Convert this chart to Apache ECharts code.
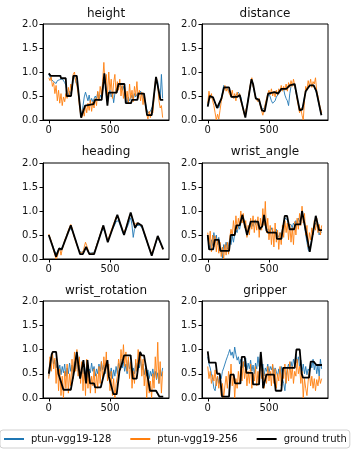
<!DOCTYPE html>
<html><head><meta charset="utf-8">
<script src="https://cdn.jsdelivr.net/npm/echarts@6/dist/echarts.min.js"></script>
<style>html,body{margin:0;padding:0;background:#fff}#c{width:352px;height:451px}</style>
</head><body><div id="c"></div>
<script>
// ---- data (x step between prediction samples) ----
const STEP = 10;
const seriesNames = ['ptun-vgg19-128', 'ptun-vgg19-256', 'ground truth'];
const panelTitles = ['height', 'distance', 'heading', 'wrist_angle', 'wrist_rotation', 'gripper'];
const xTickValues = [0, 500];
const yTickValues = [0, 0.5, 1.0, 1.5, 2.0];

const heightBlue = [.95,.92,.85,.88,.80,.84,.76,.82,.78,.84,
 .80,.86,.82,.78,.72,.58,.52,.60,.55,.66,
 .85,.90,.82,.86,.64,.40,.20,.12,.30,.48,
 .58,.62,.40,.52,.36,.45,.38,.42,.50,.44,
 .58,.40,.52,.46,.62,.80,.85,.62,.45,.55,
 .62,.48,.58,.36,.55,.64,.60,.70,.66,.72,
 .62,.70,.58,.42,.36,.48,.40,.45,.52,.42,
 .55,.48,.50,.58,.52,.60,.55,.50,.48,.35,
 .22,.15,.12,.18,.14,.30,.52,.72,.85,.80,
 .58,.45,.95,.45];
const heightOrange = [.88,.82,.90,.70,.78,.55,.72,.40,.62,.35,
 .55,.30,.48,.38,.55,.45,.68,.50,.75,.62,
 .95,1.0,.80,.72,.55,.30,.12,.05,.22,.08,
 .30,.15,.35,.20,.42,.18,.38,.25,.45,.30,
 .60,.40,.70,.52,.80,1.2,.75,.95,.50,1.0,
 .62,.85,.45,.78,.95,.55,.80,.62,.85,.50,
 .72,.45,.68,.40,.60,.35,.75,.45,.62,.38,
 .70,.50,.80,.45,.62,.40,.58,.32,.55,.28,
 .12,.02,.18,.05,.20,.15,.45,.80,.88,.70,
 .40,.25,.30,.05];
const heightTruth = [[0,.97],[16,.92],[95,.92],[100,.87],[139,.87],[147,.5],[182,.5],[201,.92],[229,.92],[264,.05],[278,.05],[297,.3],[305,.33],[365,.33],[378,.42],[432,.42],[454,.97],[479,.3],[490,.57],[555,.57],[569,.75],[618,.75],[629,.35],[672,.35],[680,.42],[724,.42],[732,.55],[778,.55],[803,.1],[841,.1],[876,.9],[887,.9],[912,.42],[935,.42]];

const distanceBlue = [.30,.45,.52,.46,.50,.42,.38,.30,.26,.25,
 .34,.45,.58,.72,.66,.70,.64,.68,.60,.52,
 .47,.50,.46,.52,.50,.58,.62,.48,.35,.22,
 .12,.15,.28,.45,.60,.76,.82,.72,.58,.50,
 .42,.46,.38,.30,.22,.20,.24,.28,.40,.50,
 .55,.48,.40,.35,.32,.40,.48,.52,.55,.58,
 .62,.60,.64,.52,.45,.40,.30,.55,.70,.72,
 .76,.70,.58,.46,.34,.22,.20,.25,.32,.48,
 .58,.65,.70,.68,.72,.70,.74,.68,.62,.55,
 .42,.30,.18,.12];
const distanceOrange = [.35,.60,.45,.55,.40,.30,.15,.00,.12,.02,
 .20,.38,.52,.62,.72,.60,.66,.58,.55,.48,
 .62,.45,.55,.40,.58,.48,.55,.40,.30,.20,
 .10,.08,.30,.40,.62,.78,.88,.70,.62,.45,
 .48,.38,.45,.28,.25,.10,.22,.20,.45,.55,
 .62,.52,.65,.50,.60,.48,.62,.52,.65,.58,
 .72,.60,.70,.62,.75,.60,.78,.68,.82,.70,
 .85,.72,.60,.42,.38,.15,.25,.10,.00,.40,
 .70,.62,.82,.70,.85,.68,.80,.75,.88,.60,
 .50,.35,.25,.15];
const distanceTruth = [[0,.28],[16,.5],[44,.47],[76,.25],[90,.22],[112,.45],[133,.68],[174,.68],[193,.48],[240,.48],[261,.52],[283,.3],[307,.05],[335,.5],[357,.85],[370,.75],[392,.45],[419,.42],[443,.2],[465,.18],[493,.55],[506,.58],[547,.58],[574,.55],[601,.65],[642,.65],[669,.72],[683,.75],[710,.75],[732,.45],[751,.2],[773,.22],[800,.6],[833,.72],[865,.72],[887,.6],[928,.1]];

const headingBlue = [.50,.44,.36,.30,.22,.16,.10,.14,.20,.24,
 .18,.25,.30,.38,.44,.52,.56,.64,.68,.60,
 .55,.45,.40,.30,.24,.16,.12,.14,.12,.18,
 .24,.20,.18,.12,.10,.13,.12,.14,.20,.28,
 .35,.44,.50,.58,.64,.62,.55,.46,.38,.44,
 .48,.56,.62,.66,.72,.78,.82,.80,.72,.66,
 .58,.52,.50,.60,.66,.72,.80,.86,.70,.45,
 .62,.64,.70,.72,.70,.68,.66,.60,.52,.44,
 .38,.30,.22,.16,.10,.15,.22,.30,.38,.44,
 .40,.34,.28,.22];
const headingOrange = [.52,.45,.38,.28,.18,.08,.00,.05,.15,.22,
 .08,.20,.28,.40,.45,.52,.60,.62,.72,.65,
 .52,.48,.36,.32,.22,.18,.12,.10,.15,.25,
 .35,.28,.20,.10,.08,.12,.08,.12,.20,.28,
 .36,.42,.52,.58,.68,.65,.58,.48,.40,.45,
 .52,.60,.66,.74,.80,.88,.90,.86,.76,.70,
 .62,.55,.56,.64,.72,.82,.90,.95,.92,.80,
 .72,.70,.75,.76,.72,.74,.68,.64,.55,.48,
 .40,.30,.26,.18,.10,.12,.25,.32,.40,.46,
 .44,.35,.28,.20];
const headingTruth = [[0,.5],[60,.05],[84,.22],[106,.2],[180,.7],[256,.1],[278,.1],[305,.25],[332,.1],[370,.1],[446,.7],[482,.35],[560,.92],[615,.5],[669,.97],[705,.65],[727,.75],[759,.7],[841,.07],[890,.48],[935,.2]];

const wristAngleBlue = [.45,.30,.22,.40,.28,.55,.35,.50,.30,.45,
 .28,.20,.02,.30,.22,.35,.20,.30,.40,.30,
 .48,.35,.52,.60,.55,.68,.62,.75,.80,.85,
 .78,.70,.58,.55,.62,.70,.75,.68,.80,.72,
 .78,.70,.65,.60,.70,.72,.80,.70,.62,.58,
 .62,.55,.65,.58,.60,.52,.62,.50,.45,.55,
 .48,.62,.75,.85,.88,.82,.72,.68,.72,.65,
 .75,.70,.80,.72,.85,.78,.82,.90,.85,.70,
 .50,.35,.20,.15,.28,.42,.58,.68,.75,.70,
 .62,.50,.58,.55];
const wristAngleOrange = [.55,.30,.58,.15,.50,.25,.48,.15,.42,.12,
 .35,.05,.25,.00,.30,.08,.35,.10,.45,.62,
 .48,.80,.55,.90,.62,.85,.70,1.0,.75,.95,
 .65,.80,.45,.70,.50,.85,.62,.90,.55,.82,
 .60,.88,.45,.85,.60,1.05,.70,1.2,.55,.85,
 .40,.70,.30,.65,.25,.75,.35,.60,.20,.55,
 .30,.70,.45,.80,.55,.75,.40,.72,.35,.65,
 .30,.78,.50,.85,.62,.95,.70,1.1,.75,.95,
 .50,.70,.25,.55,.40,.65,.50,.80,.60,.85,
 .55,.72,.50,.70];
const wristAngleTruth = [[0,.5],[11,.2],[44,.2],[57,.4],[90,.4],[103,.17],[174,.17],[188,.5],[220,.5],[234,.7],[261,.7],[283,.92],[299,.92],[321,.5],[335,.5],[351,.78],[411,.78],[424,.62],[445,.68],[460,.92],[479,.6],[490,.55],[560,.55],[565,.42],[601,.42],[629,.9],[648,.9],[669,.62],[705,.62],[715,.72],[755,.72],[770,1.0],[784,1.0],[833,.15],[860,.55],[882,.9],[909,.6],[933,.6]];

const wristRotationBlue = [.45,.55,.75,.85,.70,.78,.62,.72,.55,.68,
 .48,.65,.52,.70,.45,.62,.50,.72,.55,.68,
 .48,.75,.60,.80,.55,.68,.45,.62,.50,.70,
 .48,.65,.42,.60,.52,.72,.55,.65,.45,.60,
 .50,.70,.55,.75,.58,.68,.50,.78,.60,.55,
 .45,.62,.40,.58,.45,.65,.50,.72,.58,.80,
 .62,.75,.55,.70,.50,.78,.60,.65,.45,.62,
 .50,.72,.55,.78,.62,.80,.58,.70,.48,.62,
 .45,.58,.40,.55,.45,.60,.42,.55,.38,.52,
 .30,.58,.45,.62];
const wristRotationOrange = [.40,.85,.55,.95,.60,.82,.30,.75,.15,.60,
 .05,.45,.00,.55,.20,.70,.10,.50,.25,.80,
 .40,.95,.55,1.0,.45,.85,.30,.75,.15,.70,
 .05,.80,.20,.55,.10,.45,.25,.60,.10,.50,
 .20,.65,.30,.75,.40,.85,.55,.95,.35,.70,
 .15,.55,.05,.40,.00,.30,.45,.80,.60,1.0,
 .70,1.1,.65,.95,.55,.85,.40,.75,.20,.55,
 .30,.80,.55,1.0,.70,.90,.45,.80,.25,.60,
 .00,.45,.10,.35,.00,.50,.20,.85,.40,1.15,
 .30,.75,.10,.55];
const wristRotationTruth = [[0,.5],[24,.9],[33,.95],[60,.95],[79,.5],[120,.17],[180,.17],[207,.55],[229,.95],[256,.4],[283,.78],[305,.3],[316,.78],[337,.3],[370,.3],[378,.22],[425,.22],[479,.78],[490,.45],[528,.08],[555,.08],[577,.55],[604,.75],[615,.88],[669,.88],[686,.4],[718,.4],[746,.95],[759,.88],[778,.88],[827,.15],[876,.15],[903,.03],[935,.03]];

const gripperBlue = [.85,.70,.62,.50,.38,.20,.15,.35,.45,.30,
 .48,.40,.55,.62,.70,.78,.85,.92,1.0,.88,
 .95,.82,1.05,.90,.78,.85,.70,.80,.62,.75,
 .65,.82,.58,.72,.60,.78,.55,.68,.50,.72,
 .60,.85,.65,.90,.55,.70,.45,.62,.55,.70,
 .52,.65,.58,.68,.50,.62,.55,.45,.60,.50,
 .65,.40,.30,.15,.45,.60,.70,.58,.75,.62,
 .80,.68,.90,.72,.85,.65,.78,.55,.70,.50,
 .65,.48,.60,.55,.75,.62,.80,.58,.72,.50,
 .68,.45,.80,.60];
const gripperOrange = [.65,.40,.55,.30,.48,.35,.58,.25,.45,.20,
 .40,.05,.30,.00,.25,.45,.20,.55,.30,.70,
 .25,.50,.00,.40,.20,.55,.30,.65,.35,.75,
 .40,.60,.25,.55,.30,.70,.20,.50,.35,.65,
 .25,.55,.30,.80,.40,.60,.20,.50,.30,.65,
 .35,.55,.25,.70,.30,.60,.20,.50,.35,.65,
 .25,.55,.40,.70,.30,.60,.35,.75,.40,.65,
 .30,.55,.45,.80,.50,.65,.30,.55,.00,.40,
 .20,.05,.35,.55,.25,.45,.20,.40,.15,.38,
 .25,.45,.30,.40];
const gripperTruth = [[0,.96],[11,.73],[65,.73],[76,.5],[98,.5],[117,.03],[174,.03],[185,.48],[212,.48],[223,.3],[267,.3],[278,.85],[302,.85],[316,.52],[365,.52],[370,.28],[419,.28],[433,.95],[445,.6],[452,.2],[465,.2],[479,.48],[541,.48],[555,.15],[601,.15],[615,.62],[710,.62],[724,1.0],[751,1.0],[767,.5],[778,.42],[827,.42],[841,.75],[865,.75],[887,.68],[933,.68]];

// ---- chart ----
const panels = [
  [heightBlue, heightOrange, heightTruth],
  [distanceBlue, distanceOrange, distanceTruth],
  [headingBlue, headingOrange, headingTruth],
  [wristAngleBlue, wristAngleOrange, wristAngleTruth],
  [wristRotationBlue, wristRotationOrange, wristRotationTruth],
  [gripperBlue, gripperOrange, gripperTruth]
];
const gridBoxes = [[43,24,96],[202,24,96],[43,163,96],[202,163,96],[43,301,97],[202,301,97]];
const titleTops = [8, 8, 146, 146, 285, 285];
const colors = ['#1f77b4', '#ff7f0e', '#000000'];
const widths = [0.9, 0.9, 1.8];
const FONT = 'DejaVu Sans';
const seq = arr => arr.map((v, i) => [i * STEP, v]);

const option = {
  animation: false,
  backgroundColor: '#fff',
  title: panelTitles.map((t, i) => ({
    text: t, left: gridBoxes[i][0] + 63, top: titleTops[i], textAlign: 'center', padding: 0,
    textStyle: {fontFamily: FONT, fontSize: 12, fontWeight: 'normal', color: '#111'}
  })),
  grid: gridBoxes.map(g => ({left: g[0], top: g[1], width: 126, height: g[2], show: true,
    borderColor: '#000', borderWidth: 1, backgroundColor: '#fff'})),
  xAxis: gridBoxes.map((g, i) => ({
    type: 'value', gridIndex: i, min: -47, max: 982,
    axisLine: {show: true, onZero: false, lineStyle: {color: '#000', width: 1}},
    axisTick: {show: true, customValues: xTickValues, length: 3.5, lineStyle: {color: '#000'}},
    axisLabel: {customValues: xTickValues, fontFamily: FONT, fontSize: 10, color: '#111', margin: 5},
    splitLine: {show: false}
  })),
  yAxis: gridBoxes.map((g, i) => ({
    type: 'value', gridIndex: i, min: 0, max: 2, interval: 0.5,
    axisLine: {show: true, onZero: false, lineStyle: {color: '#000', width: 1}},
    axisTick: {show: true, length: 3.5, lineStyle: {color: '#000'}},
    axisLabel: {fontFamily: FONT, fontSize: 10, color: '#111', margin: 5, formatter: v => v.toFixed(1)},
    splitLine: {show: false}
  })),
  legend: {
    data: seriesNames, left: 0, top: 430, itemWidth: 20, itemHeight: 10, itemGap: 18,
    padding: [4, 3, 4, 3], borderColor: '#d0d0d0', borderWidth: 1, borderRadius: 3,
    itemStyle: {opacity: 0},
    textStyle: {fontFamily: FONT, fontSize: 10, color: '#111', padding: [0, 0, 0, 2]}
  },
  series: []
};
panels.forEach((p, i) => {
  const datas = [seq(p[0]), seq(p[1]), p[2]];
  datas.forEach((d, k) => {
    option.series.push({
      type: 'line', name: seriesNames[k], xAxisIndex: i, yAxisIndex: i, data: d,
      symbol: 'none', showSymbol: false, silent: true,
      lineStyle: {color: colors[k], width: widths[k]}, itemStyle: {color: colors[k]},
      z: 2 + k
    });
  });
});
const chart = echarts.init(document.getElementById('c'), null, {renderer: 'canvas'});
chart.setOption(option);
</script></body></html>
